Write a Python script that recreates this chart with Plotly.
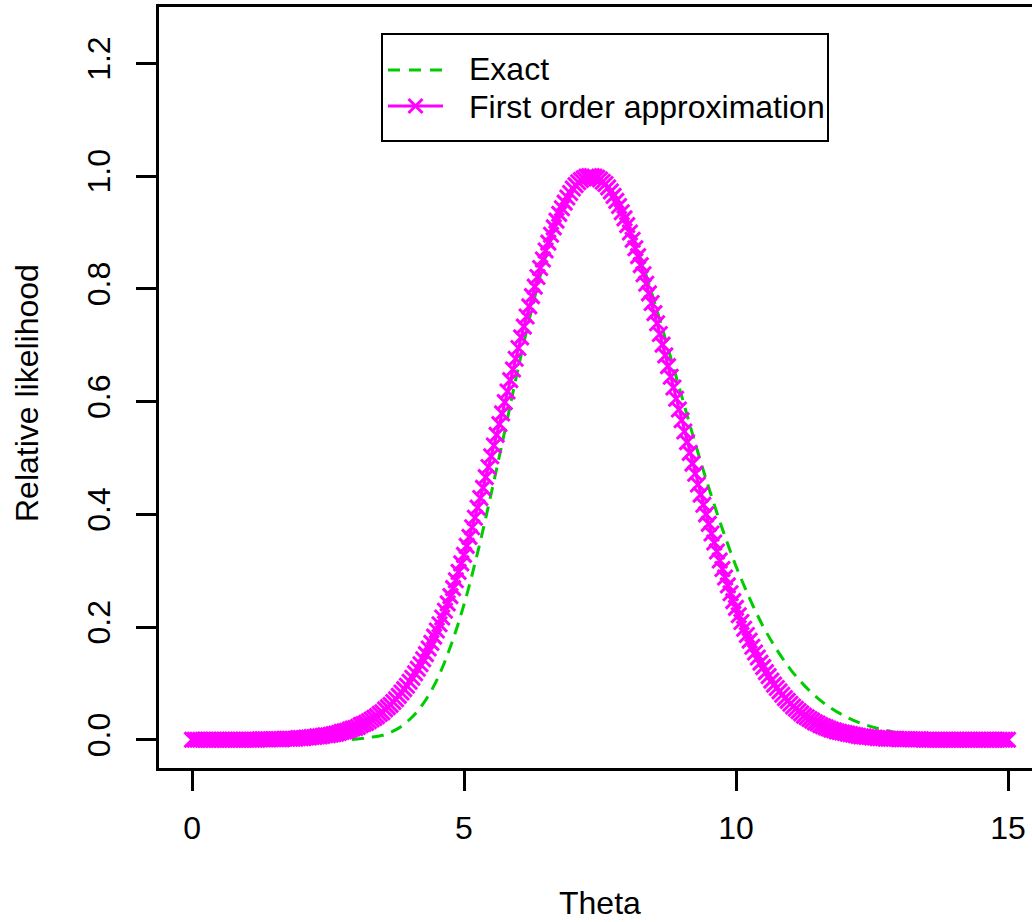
import numpy as np
import plotly.graph_objects as go

# theta grids
theta_approx = np.round(np.arange(0, 15.0001, 0.05), 2)
theta_exact = np.round(np.arange(0, 15.0001, 0.25), 2)

approx_vals = [
    0, 0, 0, 0, 0, 0, 0, 0, 0, 0, 0, 0, 0, 0, 0, 0, 0, 0, 0, 0,
    0, 0, 0, 0, 0, .001, .001, .001, .001, .001, .001, .001, .001, .001, .002, .002, .002, .002, .002, .003,
    .003, .003, .004, .004, .005, .005, .006, .006, .007, .008, .008, .009, .010, .011, .012, .014, .015, .016, .018, .020,
    .021, .023, .026, .028, .030, .033, .036, .039, .042, .046, .049, .054, .058, .062, .067, .072, .078, .084, .090, .096,
    .103, .110, .118, .126, .134, .143, .152, .162, .172, .183, .194, .205, .217, .229, .242, .255, .269, .283, .298, .313,
    .328, .344, .360, .377, .394, .412, .429, .447, .466, .484, .503, .522, .541, .560, .579, .599, .618, .638, .657, .676,
    .695, .714, .733, .751, .769, .787, .804, .821, .837, .852, .868, .882, .896, .909, .921, .933, .943, .953, .962, .970,
    .978, .984, .989, .993, .996, .999, 1.000, 1.000, .999, .997, .994, .990, .986, .980, .973, .965, .956, .947, .936, .925,
    .913, .900, .887, .872, .858, .842, .826, .809, .792, .775, .757, .739, .720, .701, .682, .663, .644, .625, .605, .586,
    .567, .547, .528, .509, .490, .472, .453, .435, .417, .400, .383, .366, .350, .334, .318, .303, .288, .274, .260, .246,
    .234, .221, .209, .197, .186, .176, .165, .155, .146, .137, .129, .120, .113, .105, .098, .092, .086, .080, .074, .069,
    .064, .059, .055, .051, .047, .043, .040, .037, .034, .031, .029, .026, .024, .022, .020, .018, .017, .015, .014, .013,
    .012, .011, .010, .009, .008, .007, .006, .006, .005, .005, .004, .004, .003, .003, .003, .002, .002, .002, .002, .002,
    .001, .001, .001, .001, .001, .001, .001, .001, .001, 0, 0, 0, 0, 0, 0, 0, 0, 0, 0, 0,
    0, 0, 0, 0, 0, 0, 0, 0, 0, 0, 0, 0, 0, 0, 0, 0, 0, 0, 0, 0,
    0,
]

exact_vals = [
    0, 0, 0, 0, 0, 0, 0, 0, 0, 0, 0, 0,
    .001, .004, .008, .018, .036, .064, .106, .165, .240, .332, .437, .548,
    .661, .766, .857, .929, .977, .999, .994, .966, .918, .853, .777, .695,
    .610, .526, .447, .374, .308, .251, .201, .160, .125, .097, .074, .056,
    .042, .031, .023, .017, .012, .009, .006, .004, .003, .002, .002, .001, .001,
]

series_names = ["Exact", "First order approximation"]
x_ticks = [0, 5, 10, 15]
y_ticks = [0.0, 0.2, 0.4, 0.6, 0.8, 1.0, 1.2]
y_tick_labels = ["0.0", "0.2", "0.4", "0.6", "0.8", "1.0", "1.2"]

W, H = 1032, 922
ML, MR, MT, MB = 159, 0, 7, 154
PW = W - ML - MR
PH = H - MT - MB

FONT = "Liberation Sans, Arial, sans-serif"
GREEN = "#00CD00"
MAGENTA = "#FF00FF"

fig = go.Figure()
fig.add_trace(go.Scatter(
    x=theta_exact, y=exact_vals, mode="lines", name=series_names[0],
    showlegend=False,
    line=dict(color=GREEN, width=3, dash="12px,8px", shape="spline"),
))
fig.add_trace(go.Scatter(
    x=theta_approx, y=approx_vals, mode="lines+markers",
    name=series_names[1], showlegend=False,
    line=dict(color=MAGENTA, width=3),
    marker=dict(symbol="x-thin", size=15, color=MAGENTA,
                line=dict(color=MAGENTA, width=3)),
))


def px2x(px):
    return (px - ML) / PW


def py2y(py):
    return 1 - (py - MT) / PH


# legend drawn as a boxed key (pixel layout of the reference)
LG_L, LG_R, LG_T, LG_B = 382, 828, 34, 141
ROW1_Y, ROW2_Y = 70, 106
SYM_L, SYM_R = 388, 443
TXT_X = 468
shapes = [
    dict(type="rect", xref="paper", yref="paper",
         x0=px2x(LG_L), x1=px2x(LG_R), y0=py2y(LG_B), y1=py2y(LG_T),
         line=dict(color="black", width=2), fillcolor="white", layer="above"),
    dict(type="line", xref="paper", yref="paper",
         x0=px2x(SYM_L), x1=px2x(SYM_R), y0=py2y(ROW1_Y), y1=py2y(ROW1_Y),
         line=dict(color=GREEN, width=3, dash="12px,9px"), layer="above"),
    dict(type="line", xref="paper", yref="paper",
         x0=px2x(SYM_L), x1=px2x(SYM_R), y0=py2y(ROW2_Y), y1=py2y(ROW2_Y),
         line=dict(color=MAGENTA, width=3), layer="above"),
]
cx = (SYM_L + SYM_R) / 2
r = 7
for dx0, dy0, dx1, dy1 in [(-r, -r, r, r), (-r, r, r, -r)]:
    shapes.append(dict(type="line", xref="paper", yref="paper",
                       x0=px2x(cx + dx0), x1=px2x(cx + dx1),
                       y0=py2y(ROW2_Y + dy0), y1=py2y(ROW2_Y + dy1),
                       line=dict(color=MAGENTA, width=3), layer="above"))

annotations = [
    dict(text="Theta", x=7.5, xref="x", y=py2y(903), yref="paper",
         showarrow=False, xanchor="center", yanchor="middle",
         font=dict(family=FONT, size=32, color="black")),
    dict(text="Relative likelihood", x=px2x(27), xref="paper",
         y=py2y(393), yref="paper", textangle=-90,
         showarrow=False, xanchor="center", yanchor="middle",
         font=dict(family=FONT, size=32, color="black")),
    dict(text=series_names[0], x=px2x(TXT_X), xref="paper",
         y=py2y(ROW1_Y - 1), yref="paper", showarrow=False,
         xanchor="left", yanchor="middle", borderpad=0,
         font=dict(family=FONT, size=32, color="black")),
    dict(text=series_names[1], x=px2x(TXT_X), xref="paper",
         y=py2y(ROW2_Y + 0.5), yref="paper", showarrow=False,
         xanchor="left", yanchor="middle", borderpad=0,
         font=dict(family=FONT, size=32, color="black")),
]

fig.update_layout(
    width=W, height=H,
    margin=dict(l=ML, r=MR, t=MT, b=MB, pad=0),
    paper_bgcolor="white", plot_bgcolor="white",
    font=dict(family=FONT, size=32, color="black"),
    showlegend=False,
    xaxis=dict(
        range=[-0.607, (W - 192) / 54.4], tickmode="array", tickvals=x_ticks,
        ticktext=[str(v) for v in x_ticks],
        showline=True, linecolor="black", linewidth=3, mirror=True,
        ticks="outside", ticklen=20, tickwidth=3, tickcolor="black",
        ticklabelstandoff=10,
        showgrid=False, zeroline=False,
        tickfont=dict(family=FONT, size=32, color="black"),
    ),
    yaxis=dict(
        range=[-0.05, 1.3], tickmode="array", tickvals=y_ticks,
        ticktext=y_tick_labels, tickangle=-90,
        showline=True, linecolor="black", linewidth=3, mirror=False,
        ticks="outside", ticklen=20, tickwidth=3, tickcolor="black",
        ticklabelstandoff=13,
        showgrid=False, zeroline=False,
        tickfont=dict(family=FONT, size=32, color="black"),
    ),
    shapes=shapes,
    annotations=annotations,
)

fig.write_html("out.html")
